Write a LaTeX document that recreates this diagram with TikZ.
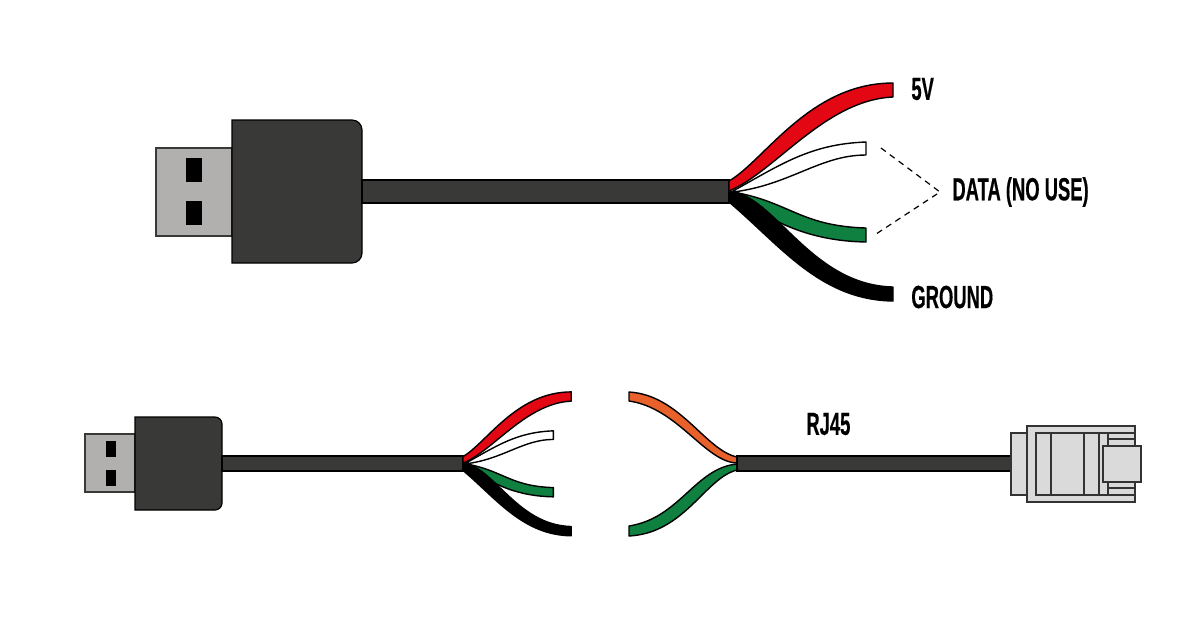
\documentclass[tikz,border=0pt]{standalone}
\usepackage{xcolor}
\usepackage{fontspec}
\newfontfamily\labelfont[FakeStretch=0.575,FakeBold=0.4]{Liberation Sans}
\definecolor{CableDark}{HTML}{393937}
\definecolor{PlugMetal}{HTML}{B2B0AF}
\definecolor{JackGrey}{HTML}{DADADA}
\definecolor{JackLine}{HTML}{333333}
\definecolor{WireRed}{HTML}{E30613}
\definecolor{WireGreen}{HTML}{0F8040}
\definecolor{WireOrange}{HTML}{E8602A}

\tikzset{
  cable/.style={draw=black, line width=0.6pt, fill=CableDark},
  metal/.style={draw=CableDark, line width=0.8pt, fill=PlugMetal},
  hole/.style={fill=black},
  wire/.style={draw=black, line width=0.7pt, line join=round},
  jack/.style={draw=JackLine, line width=1pt, fill=JackGrey},
  jackline/.style={draw=JackLine, line width=1pt},
  lead/.style={draw=black, line width=0.6pt, dash pattern=on 3pt off 2.5pt},
  caption/.style={font=\labelfont\bfseries\fontsize{16}{16}\selectfont, inner sep=0pt, anchor=west},
}

% Los cuatro hilos se dibujan con las coordenadas del cable grande;
% el cable chico los reutiliza dentro de un scope escalado.
\newcommand{\DrawWires}{%
  \draw[wire, fill=white] (733,191) .. controls (780,165) and (810,144) .. (866,142)
    -- (866,155) .. controls (820,155) and (790,185) .. (733,192) -- cycle;
  \draw[wire, fill=WireRed] (729,181) .. controls (765,160) and (810,83) .. (893,83)
    -- (893,97) .. controls (825,100) and (775,172) .. (729,191) -- cycle;
  \draw[wire, fill=WireGreen] (733,192) .. controls (790,202) and (800,226) .. (866,228)
    -- (866,242) .. controls (815,241) and (775,226) .. (733,193) -- cycle;
  \draw[wire, fill=black] (729,191) .. controls (775,195) and (810,285) .. (893,287)
    -- (893,301) .. controls (820,300) and (780,245) .. (729,202) -- cycle;
}

\begin{document}
\begin{tikzpicture}[x=0.5pt, y=-0.5pt]
\useasboundingbox (0,0) rectangle (1200,629);

% USB grande
\draw[metal] (156,148) rectangle (232,236);
\fill[hole] (186,158) rectangle (202,182);
\fill[hole] (186,201) rectangle (202,225);
\draw[cable] (232,120) {[rounded corners=5pt] -- (362,120) -- (362,263)} -- (232,263) -- cycle;
\draw[cable] (362,180) rectangle (729,203);
\DrawWires

\node[caption] (fiveV) at (911,89) {5V};
\node[caption] (data) at (952,192) {DATA (NO USE)};
\node[caption] (ground) at (911,297) {GROUND};

\coordinate (whiteEnd) at (881,148);
\coordinate (greenEnd) at (873,236);
\coordinate (dataTip) at (940,192);
\draw[lead] (whiteEnd) -- (dataTip) -- (greenEnd);

% USB chico
\draw[metal] (85,434) rectangle (135,492);
\fill[hole] (106,441) rectangle (116,457);
\fill[hole] (106,470) rectangle (116,486);
\draw[cable] (135,417) {[rounded corners=3.5pt] -- (222,417) -- (222,510)} -- (135,510) -- cycle;
\draw[cable] (222,456) rectangle (463,471);
\begin{scope}[shift={(463,463.5)}, scale=0.66, shift={(-729,-191.5)}]
  \DrawWires
\end{scope}

% Lado RJ45
\draw[wire, fill=WireOrange] (629,392) .. controls (680,395) and (705,450) .. (737,457)
  -- (737,463) .. controls (705,462) and (678,408) .. (629,401) -- cycle;
\draw[wire, fill=WireGreen] (629,526) .. controls (680,518) and (695,468) .. (737,464)
  -- (737,470) .. controls (705,478) and (685,533) .. (629,536) -- cycle;
\draw[cable] (737,456) rectangle (1012,471);
\node[caption] (rjLabel) at (806,424) {RJ45};

\draw[jack] (1011,433) rectangle (1027,495);
\draw[jack] (1027,426) rectangle (1135,502);
\draw[jackline] (1036,433) rectangle (1108,495);
\foreach \x in {1051,1084,1099}
  \draw[jackline] (\x,433) -- (\x,495);
\foreach \y in {433,439,488,495}
  \draw[jackline] (1108,\y) -- (1135,\y);
\draw[jack] (1103,446) rectangle (1141,482);

\end{tikzpicture}
\end{document}
